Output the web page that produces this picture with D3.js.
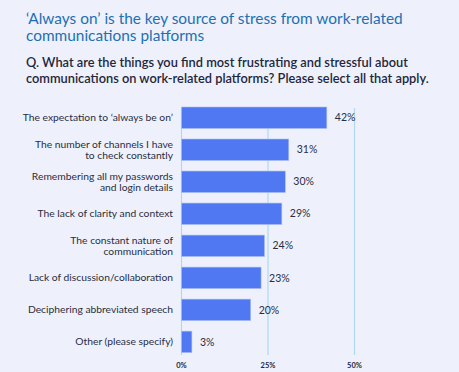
<!DOCTYPE html>
<html>
<head>
<meta charset="utf-8">
<script src="https://cdn.jsdelivr.net/npm/d3@7"></script>
<style>
  body { margin: 0; background: #eef1fc; }
  svg { display: block; font-family: Lato, "Open Sans", sans-serif; }
</style>
</head>
<body>
<div id="content"></div>
<script>
// chart data
var categories = [
  ["The expectation to \u2018always be on\u2019"],
  ["The number of channels I have", "to check constantly"],
  ["Remembering all my passwords", "and login details"],
  ["The lack of clarity and context"],
  ["The constant nature of", "communication"],
  ["Lack of discussion/collaboration"],
  ["Deciphering abbreviated speech"],
  ["Other (please specify)"]
];
var values = [42, 31, 30, 29, 24, 23, 20, 3];
var ticks = [0, 25, 50];

var titleLines = ["\u2018Always on\u2019 is the key source of stress from work-related",
  "communications platforms"];
var questionLines = ["Q. What are the things you find most frustrating and stressful about",
  "communications on work-related platforms? Please select all that apply."];

var W = 459, H = 372;
var margin = {top: 107, left: 181.5, bottom: 29};

var svg = d3.select("#content").append("svg")
  .attr("width", W)
  .attr("height", H);

svg.append("rect").attr("width", W).attr("height", H).attr("fill", "#eef1fc");

// title
svg.append("g").selectAll("text")
  .data(titleLines)
  .enter().append("text")
  .attr("x", 26)
  .attr("y", function(d, i) { return 24 + i * 16.5; })
  .attr("fill", "#1d70b3")
  .style("font-size", "15.4px")
  .text(function(d) { return d; });

// question
svg.append("g").selectAll("text")
  .data(questionLines)
  .enter().append("text")
  .attr("x", 26)
  .attr("y", function(d, i) { return 67 + i * 16; })
  .attr("fill", "#23263a")
  .style("font-size", "12.8px")
  .style("font-weight", "600")
  .text(function(d) { return d; });

var x = d3.scaleLinear().domain([0, 50]).range([margin.left, margin.left + 173]);
var y = d3.scaleBand()
  .domain(d3.range(values.length))
  .range([margin.top, margin.top + 30.7 * values.length])
  .paddingInner(0.33)
  .paddingOuter(0);

// grid lines
svg.append("g").selectAll("line")
  .data(ticks)
  .enter().append("line")
  .attr("x1", function(d) { return x(d); })
  .attr("x2", function(d) { return x(d); })
  .attr("y1", 108)
  .attr("y2", H - 17)
  .attr("stroke", "#aed9f1")
  .attr("stroke-width", 1.2);

// tick labels
svg.append("g").selectAll("text")
  .data(ticks)
  .enter().append("text")
  .attr("x", function(d) { return x(d); })
  .attr("y", H - 4)
  .attr("text-anchor", "middle")
  .attr("fill", "#23263a")
  .style("font-size", "7.5px")
  .style("font-weight", "700")
  .text(function(d) { return d + "%"; });

// bars
svg.append("g").selectAll("rect")
  .data(values)
  .enter().append("rect")
  .attr("x", x(0))
  .attr("y", function(d, i) { return y(i); })
  .attr("width", function(d) { return x(d) - x(0); })
  .attr("height", y.bandwidth())
  .attr("fill", "#4f78f2")
  .attr("stroke", "#a9bdf7")
  .attr("stroke-width", 0.6);

// value labels
svg.append("g").selectAll("text")
  .data(values)
  .enter().append("text")
  .attr("x", function(d) { return x(d) + 8; })
  .attr("y", function(d, i) { return y(i) + y.bandwidth() / 2; })
  .attr("dy", "0.35em")
  .attr("fill", "#2a2d3e")
  .style("font-size", "10.5px")
  .text(function(d) { return d + "%"; });

// category labels
var lab = svg.append("g").selectAll("text")
  .data(categories)
  .enter().append("text")
  .attr("text-anchor", "end")
  .attr("fill", "#2a2d3e")
  .style("font-size", "10.3px")
  .attr("transform", function(d, i) {
    return "translate(173," + (y(i) + y.bandwidth() / 2) + ")";
  });

lab.selectAll("tspan")
  .data(function(d) { return d; })
  .enter().append("tspan")
  .attr("x", 0)
  .attr("y", function(d, i, nodes) {
    return (i - (nodes.length - 1) / 2) * 11;
  })
  .attr("dy", "0.35em")
  .text(function(d) { return d; });
</script>
</body>
</html>
